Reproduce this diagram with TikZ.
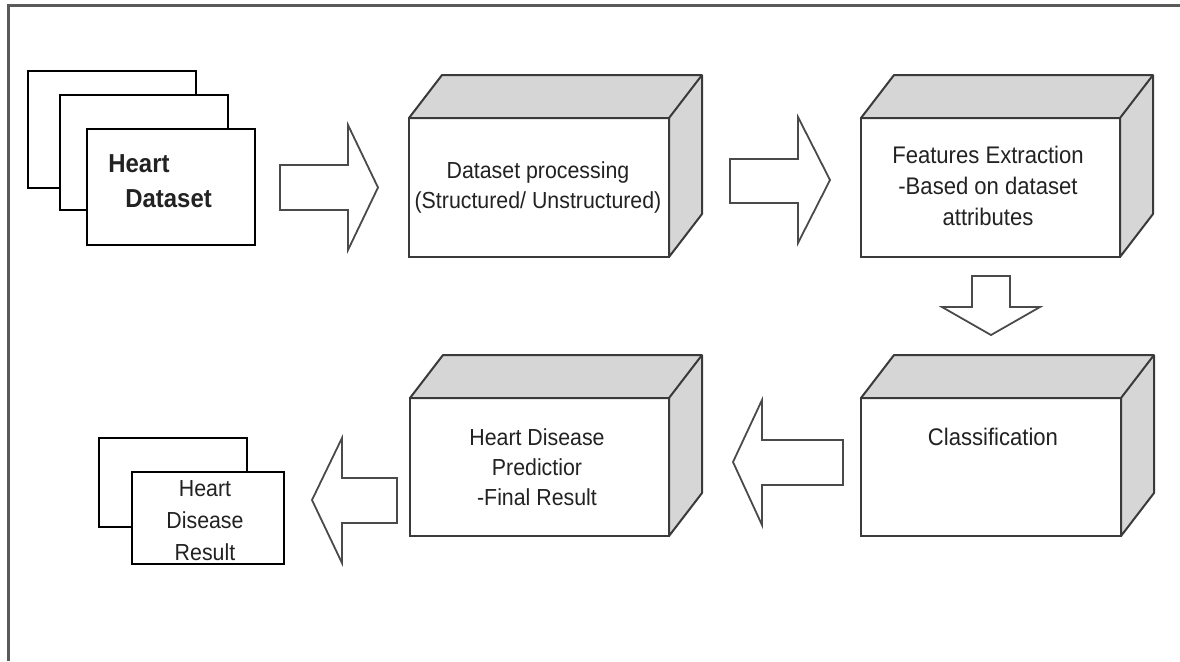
\documentclass[tikz,border=0pt]{standalone}
\usepackage{fontspec}
\setmainfont{Liberation Sans}[FakeStretch=0.92]
\definecolor{edgegray}{HTML}{3A3A3A}
\definecolor{shade}{HTML}{D6D6D6}
\definecolor{framegray}{HTML}{5A5A5A}
\definecolor{arrowgray}{HTML}{4A4A4A}
\definecolor{textgray}{HTML}{222222}
\newcommand\cubefaces[1]{%
  \filldraw[cubeside] (#1.north west) -- ([shift={(33,-43)}]#1.north west) -- ([shift={(33,-43)}]#1.north east) -- ([shift={(33,-43)}]#1.south east) -- (#1.south east) -- (#1.north east) -- cycle;
  \draw[cubeside, fill=none] (#1.north east) -- ([shift={(33,-43)}]#1.north east);
}
\begin{document}
\begin{tikzpicture}[x=0.5pt,y=-0.5pt,
  doc/.style={draw=black, line width=1pt, fill=white, inner sep=0pt, outer sep=0pt},
  cubefront/.style={draw=edgegray, line width=1pt, fill=white, inner sep=0pt, outer sep=0pt, minimum width=130pt, minimum height=69.5pt},
  cubeside/.style={draw=edgegray, line width=1pt, fill=shade, line join=round},
  blockarrow/.style={draw=arrowgray, line width=0.9pt, fill=white, line join=miter},
  lbl/.style={font=\fontsize{12}{15}\selectfont, text=textgray, align=center, inner sep=0pt},
  framestyle/.style={draw=framegray, line width=1.5pt}
]
\useasboundingbox (0,0) rectangle (1180,661);
\fill[white] (0,0) rectangle (1180,661);
\draw[framestyle] (8,661) -- (8,5) -- (1180,5);

% Heart dataset stack
\node[doc, minimum width=84pt, minimum height=58.5pt] (dback) at (112,129.5) {};
\node[doc, minimum width=84pt, minimum height=57.5pt] (dmid) at (144,152.5) {};
\node[doc, minimum width=84pt, minimum height=58pt] (dfront) at (171,187) {};
\node[font=\bfseries\fontsize{13}{17.5}\selectfont, text=textgray, align=left, inner sep=0pt, anchor=west] (dtext) at (108,181.5) {Heart\\\hspace*{8.5pt}Dataset};

% Cubes
\node[cubefront] (proc) at (539,187.5) {};
\cubefaces{proc}
\node[lbl, font=\fontsize{11.6}{15}\selectfont] (proctext) at (538,187) {Dataset processing\\(Structured/ Unstructured)};

\node[cubefront, minimum width=129.5pt] (feat) at (990.5,187.5) {};
\cubefaces{feat}
\node[lbl, font=\fontsize{12}{15.5}\selectfont] (feattext) at (988,186) {Features Extraction\\-Based on dataset\\attributes};

\node[cubefront, minimum height=69pt] (cls) at (991,467) {};
\cubefaces{cls}
\node[lbl] (clstext) at (993,437) {Classification};

\node[cubefront, minimum width=129.5pt, minimum height=69pt] (pred) at (539.5,467) {};
\cubefaces{pred}
\node[lbl, font=\fontsize{11.6}{15}\selectfont] (predtext) at (537,467) {Heart Disease\\Predictior\\-Final Result};

% Result stack
\node[doc, minimum width=74pt, minimum height=44.5pt] (rback) at (173,482.5) {};
\node[doc, minimum width=76pt, minimum height=46pt] (rfront) at (208,518) {};
\node[lbl, font=\fontsize{11.6}{16}\selectfont] (rtext) at (205,521) {Heart\\Disease\\Result};

% Block arrows
\draw[blockarrow] (280,165) -- (348,165) -- (348,125) -- (378,187.5) -- (348,250) -- (348,210) -- (280,210) -- cycle;
\draw[blockarrow] (730,159) -- (798,159) -- (798,117) -- (830,180) -- (798,243) -- (798,203) -- (730,203) -- cycle;
\draw[blockarrow] (972,276) -- (1010,276) -- (1010,307) -- (1040,307) -- (991,335) -- (942,307) -- (972,307) -- cycle;
\draw[blockarrow] (843,440) -- (762,440) -- (762,400) -- (733,462) -- (762,525) -- (762,485) -- (843,485) -- cycle;
\draw[blockarrow] (397,478) -- (342,478) -- (342,438) -- (312,500) -- (342,563) -- (342,523) -- (397,523) -- cycle;
\end{tikzpicture}
\end{document}
